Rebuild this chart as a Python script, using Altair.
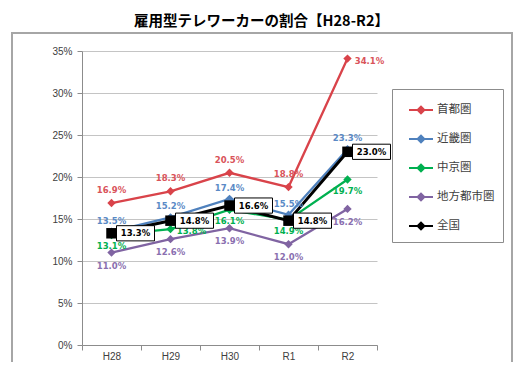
import altair as alt
import pandas as pd

years = ["H28", "H29", "H30", "R1", "R2"]
series = ["首都圏", "近畿圏", "中京圏", "地方都市圏", "全国"]
shuto = [16.9, 18.3, 20.5, 18.8, 34.1]
kinki = [13.5, 15.2, 17.4, 15.5, 23.3]
chukyo = [13.1, 13.8, 16.1, 14.9, 19.7]
chiho = [11.0, 12.6, 13.9, 12.0, 16.2]
zenkoku = [13.3, 14.8, 16.6, 14.8, 23.0]
line_colors = ["#d9434a", "#4f81bd", "#00b050", "#8064a2", "#000000"]
label_colors = ["#d9535a", "#5a8ac6", "#00b050", "#8a6fb0", "#000000"]
y_ticks = [0, 0.05, 0.10, 0.15, 0.20, 0.25, 0.30, 0.35]

rows = []
for name, vals in zip(series, [shuto, kinki, chukyo, chiho, zenkoku]):
    for yr, v in zip(years, vals):
        rows.append({"year": yr, "series": name, "value": v / 100})
df = pd.DataFrame(rows)

AX = "#8c8c8c"
x_enc = alt.X(
    "year:N", sort=years,
    scale=alt.Scale(paddingInner=0, paddingOuter=0),
    axis=alt.Axis(title=None, labelAngle=0, tickBand="extent", grid=False,
                  domainColor=AX, tickColor=AX, tickSize=5,
                  labelColor="#404040", labelFont="Liberation Sans",
                  labelFontSize=10, labelPadding=1),
)
y_enc = alt.Y(
    "value:Q", scale=alt.Scale(domain=[0, 0.35]),
    axis=alt.Axis(title=None, format=".0%", values=y_ticks, gridColor="#c4c4c4",
                  domainColor=AX, tickColor=AX, tickSize=5, labelPadding=5,
                  labelColor="#404040", labelFont="Liberation Sans", labelFontSize=10),
)
color_scale = alt.Scale(domain=series, range=line_colors)
color_enc = alt.Color(
    "series:N",
    scale=color_scale,
    sort=series,
    legend=alt.Legend(
        title=None, orient="none", legendX=310, legendY=38,
        padding=8, strokeColor=AX, fillColor="white",
        symbolType="M-1,0L1,0M-0.28,0L0,-0.28L0.28,0L0,0.28Z",
        symbolSize=576, symbolStrokeWidth=2, symbolOffset=8,
        labelFont="Noto Sans CJK JP", labelFontSize=11.5, labelColor="#404040",
        labelOffset=3, rowPadding=8,
    ),
)

base = alt.Chart(df)

frame = alt.Chart(pd.DataFrame({"a": [0]})).mark_rect(
    fill=None, stroke="#a6a6a6", strokeWidth=2
).encode(x=alt.value(-70), x2=alt.value(430), y=alt.value(-18), y2=alt.value(345))

lines = base.mark_line().encode(
    x=x_enc, y=y_enc, color=color_enc,
    strokeWidth=alt.condition(alt.datum.series == "全国", alt.value(3), alt.value(2.3)),
)

pt_color = alt.Color("series:N", scale=color_scale)
diamonds = base.transform_filter(alt.datum.series != "全国").mark_point(
    filled=True, opacity=1, shape="diamond", size=70
).encode(x=x_enc, y=y_enc, color=pt_color)
squares = base.transform_filter(alt.datum.series == "全国").mark_point(
    filled=True, opacity=1, shape="square", size=110
).encode(x=x_enc, y=y_enc, color=pt_color)


def labels(name, dx=0, dy=0, only=None, exclude=None):
    c = label_colors[series.index(name)]
    ch = base.transform_filter(alt.datum.series == name)
    if only is not None:
        ch = ch.transform_filter(alt.FieldOneOfPredicate(field="year", oneOf=only))
    if exclude is not None:
        ch = ch.transform_filter(~alt.FieldOneOfPredicate(field="year", oneOf=exclude))
    return ch.mark_text(
        dx=dx, dy=dy, font="DejaVu Sans", fontWeight="bold", fontSize=8.5,
        color=c, baseline="middle", align="center",
    ).encode(x=x_enc, y=y_enc, text=alt.Text("value:Q", format=".1%"))


t_shuto = labels("首都圏", dy=-13, exclude=["R2"])
t_shuto2 = labels("首都圏", dx=22, dy=2, only=["R2"])
t_kinki = labels("近畿圏", dy=-11)
t_chukyo = labels("中京圏", dy=11, exclude=["H29"])
t_chukyo2 = labels("中京圏", dx=21, dy=2, only=["H29"])
t_chiho = labels("地方都市圏", dy=13)

zen = base.transform_filter(alt.datum.series == "全国")
box = zen.mark_point(
    shape="M-1,-0.4L1,-0.4L1,0.4L-1,0.4Z", size=1444, filled=True,
    fill="white", stroke="black", strokeWidth=1, opacity=1, xOffset=24,
).encode(x=x_enc, y=y_enc)
t_zen = labels("全国", dx=24, dy=0)

chart = alt.layer(
    frame, lines, diamonds, squares, t_shuto, t_shuto2, t_kinki, t_chukyo, t_chukyo2,
    t_chiho, box, t_zen
).properties(
    width=295, height=294,
    padding={"left": 74, "top": 43, "right": 136, "bottom": 17},
    autosize="none",
    title=alt.Title("雇用型テレワーカーの割合【H28-R2】", font="Noto Sans CJK JP",
                    fontSize=14.5, fontWeight="bold", color="#000000", offset=3, dx=32),
).configure_view(stroke=None)

chart.save("out.html", embed_options={"renderer": "svg", "actions": False})
